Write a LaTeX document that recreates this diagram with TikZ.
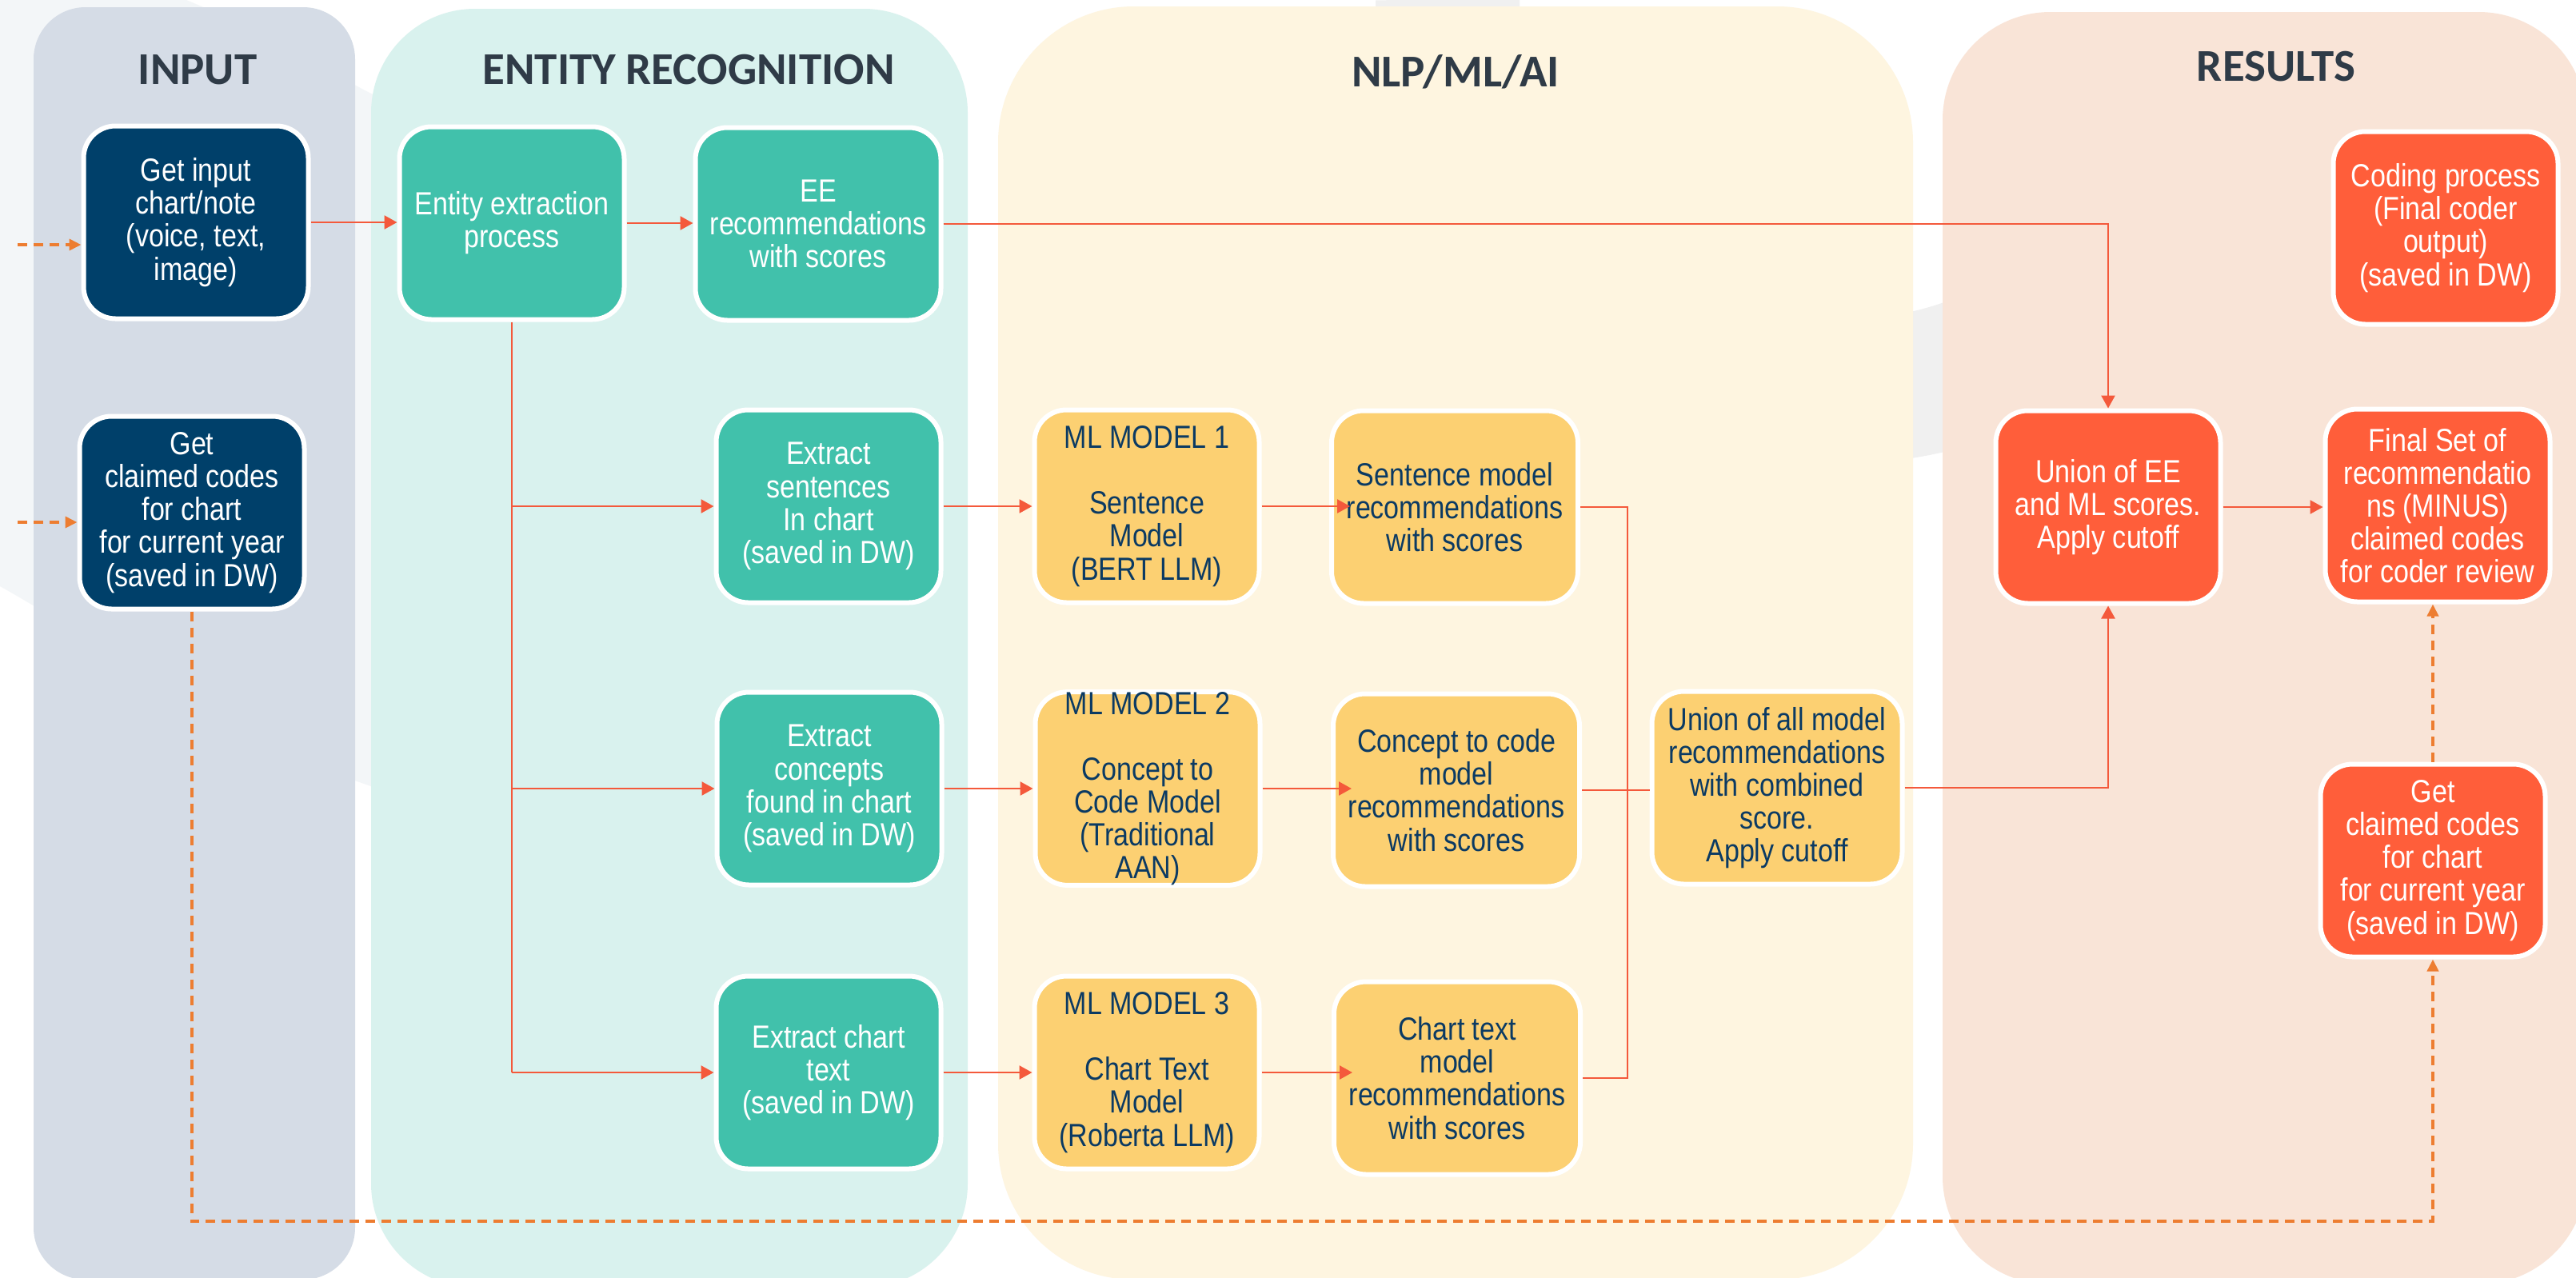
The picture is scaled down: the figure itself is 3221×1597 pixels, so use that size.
\documentclass[tikz,border=0pt]{standalone}
\usepackage{fontspec}
\setmainfont{Liberation Sans}[FakeStretch=0.85]
\newfontfamily\headfont{Carlito}
\usepackage{xcolor}
\usepackage{tikz}
\usetikzlibrary{arrows.meta}
\definecolor{cBgBlue}{HTML}{F3F6F8}
\definecolor{cRing}{HTML}{F0F0F0}
\definecolor{cInPanel}{HTML}{D5DCE6}
\definecolor{cErPanel}{HTML}{D9F2EE}
\definecolor{cMlPanel}{HTML}{FEF5E0}
\definecolor{cResPanel}{HTML}{F9E4D7}
\definecolor{cNavy}{HTML}{00406A}
\definecolor{cTeal}{HTML}{41C1AB}
\definecolor{cGold}{HTML}{FCD072}
\definecolor{cTomato}{HTML}{FF5E3A}
\definecolor{cLine}{HTML}{F4593B}
\definecolor{cDash}{HTML}{ED7D31}
\definecolor{cHead}{HTML}{2F3B47}
\definecolor{cInk}{HTML}{0B3A63}
\tikzset{
  cflow/.style={x=0.1mm, y=-0.1mm, font=\fontsize{11.4pt}{11.7pt}\selectfont},
  c box/.style={draw=white, line width=0.6mm, rounded corners=4mm, align=center, inner xsep=1mm,
                inner ysep=0pt, minimum width=28.1mm, minimum height=24.1mm, text=white},
  c in/.style={c box, fill=cNavy},
  c er/.style={c box, fill=cTeal},
  c ml/.style={c box, fill=cGold, text=cInk},
  c rec/.style={c ml, minimum width=30.8mm},
  c res/.style={c box, fill=cTomato},
  c panel/.style={draw=none},
  c title/.style={font=\headfont\bfseries\fontsize{16.2pt}{19pt}\selectfont, text=cHead},
  c ln/.style={draw=cLine, line width=0.25mm},
  c arr/.style={c ln, -{Triangle[length=1.6mm, width=1.7mm]}},
  c into/.style={c arr, shorten >=-2.6mm},
  c dash/.style={draw=cDash, line width=0.4mm, dash pattern=on 1.2mm off 0.8mm,
                 -{Triangle[length=1.5mm, width=1.4mm]}},
}
\begin{document}
\begin{tikzpicture}[cflow]
\useasboundingbox (0,0) rectangle (3221,1597);
\fill[white] (0,0) rectangle (3221,1597);
% ---- backdrop ----
\fill[cBgBlue] (0,0) -- (233,0) .. controls (330,40) and (420,95) .. (470,120) -- (470,985)
  .. controls (300,930) and (120,800) .. (0,733) -- cycle;
\draw[cRing, line width=18mm] (1810,0) arc[start angle=180, end angle=40, radius=490];
% ---- panels ----
\fill[c panel, cInPanel, rounded corners=6.5mm] (42,9) rectangle (444,1600);
\fill[c panel, cErPanel, rounded corners=13mm] (464,11) rectangle (1210,1610);
\fill[c panel, cMlPanel, rounded corners=17mm] (1248,8) rectangle (2392,1600);
\fill[c panel, cResPanel, rounded corners=13.5mm] (2429,15) rectangle (3234,1606);
\node[c title] (tIn) at (247,87) {INPUT};
\node[c title] (tEr) at (861,87) {ENTITY RECOGNITION};
\node[c title] (tMl) at (1820,90) {NLP/ML/AI};
\node[c title] (tRes) at (2846,83) {RESULTS};
% ---- INPUT ----
\node[c in] (in1) at (245,278) {Get input\\chart/note\\(voice, text,\\image)};
\node[c in] (in2) at (240,641) {Get\\claimed codes\\for chart\\for current year\\(saved in DW)};
% ---- ENTITY RECOGNITION ----
\node[c er] (er1) at (640,279) {Entity extraction\\process};
\node[c er, minimum width=30.7mm] (er2) at (1023,280) {EE\\recommendations\\with scores};
\node[c er] (er3) at (1036,633) {Extract\\sentences\\In chart\\(saved in DW)};
\node[c er] (er4) at (1037,986) {Extract\\concepts\\found in chart\\(saved in DW)};
\node[c er] (er5) at (1036,1341) {Extract chart\\text\\(saved in DW)};
% ---- NLP/ML/AI ----
\node[c ml] (ml1) at (1434,633) {ML MODEL 1\\[4.1mm]Sentence\\Model\\(BERT LLM)};
\node[c ml] (ml2) at (1435,986) {ML MODEL 2\\[4.1mm]Concept to\\Code Model\\(Traditional\\AAN)};
\node[c ml] (ml3) at (1434,1341) {ML MODEL 3\\[4.1mm]Chart Text\\Model\\(Roberta LLM)};
\node[c rec] (rec1) at (1819,634) {Sentence model\\recommendations\\with scores};
\node[c rec] (rec2) at (1821,988) {Concept to code\\model\\recommendations\\with scores};
\node[c rec] (rec3) at (1822,1348) {Chart text\\model\\recommendations\\with scores};
\node[c ml, minimum width=31.3mm] (uni) at (2222,985) {Union of all model\\recommendations\\with combined\\score.\\Apply cutoff};
% ---- RESULTS ----
\node[c res] (cod) at (3058,285) {Coding process\\(Final coder\\output)\\(saved in DW)};
\node[c res] (ures) at (2636,634) {Union of EE\\and ML scores.\\Apply cutoff};
\node[c res] (fin) at (3048,632) {Final Set of\\recommendatio\\ns (MINUS)\\claimed codes\\for coder review};
\node[c res] (clm) at (3042,1076) {Get\\claimed codes\\for chart\\for current year\\(saved in DW)};
% ---- connectors ----
\coordinate (srcA) at (22,306); \coordinate (srcB) at (22,653);
\coordinate (mrg) at (2035,634); \coordinate (dlow) at (243,1527);
\draw[c dash] (srcA) -- (srcA -| in1.west); \draw[c dash] (srcB) -- (srcB -| in2.west);
\draw[c arr] (in1.east) -- (in1.east -| er1.west); \draw[c arr] (er1.east) -- (er1.east -| er2.west);
\draw[c arr] (er2.east) -| (ures.north);
\draw[c ln] (er1.south) -- (er1.south |- er5.west);
\draw[c arr] (er1.south |- er3.west) -- (er3.west); \draw[c arr] (er1.south |- er4.west) -- (er4.west);
\draw[c arr] (er1.south |- er5.west) -- (er5.west);
\draw[c arr] (er3) -- (ml1); \draw[c arr] (er4) -- (ml2); \draw[c arr] (er5) -- (ml3);
\draw[c into] (ml1.east) -- (ml1.east -| rec1.west); \draw[c into] (ml2.east) -- (ml2.east -| rec2.west);
\draw[c into] (ml3.east) -- (ml3.east -| rec3.west);
\draw[c ln] (rec1.east) -- (rec1.east -| mrg) -- (mrg |- rec3.east) -- (rec3.east);
\draw[c ln] (rec2.east) -- (rec2.east -| uni.west);
\draw[c arr] (uni.east) -| (ures.south);
\draw[c arr] (ures.east) -- (ures.east -| fin.west);
\draw[c dash] (in2.south) -- (in2.south |- dlow) -| (clm.south);
\draw[c dash] (clm.north) -- (clm.north |- fin.south);
\end{tikzpicture}
\end{document}
